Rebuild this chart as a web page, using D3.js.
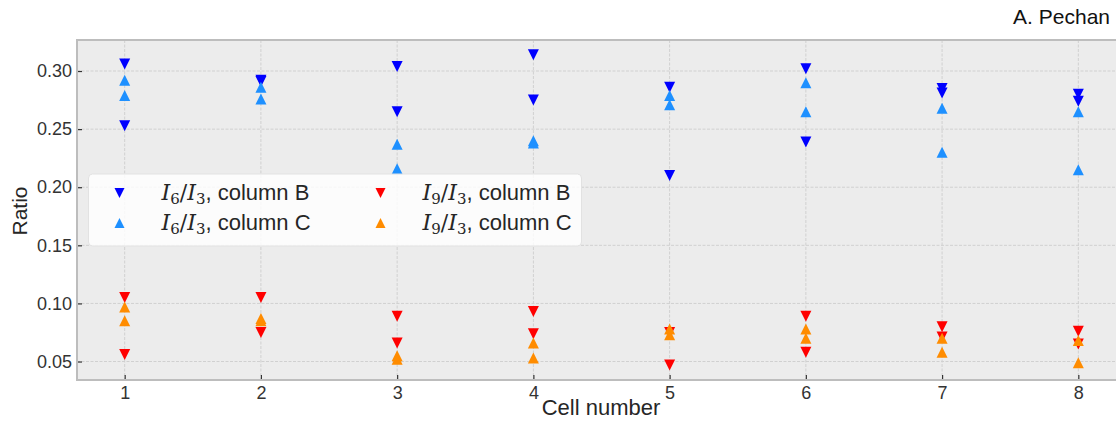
<!DOCTYPE html>
<html>
<head>
<meta charset="utf-8">
<script src="https://cdn.jsdelivr.net/npm/d3@7"></script>
<style>
  body { margin:0; background:#fff; }
  text { font-family:"Liberation Sans", Arial, sans-serif; }
</style>
</head>
<body>
<div id="chart"></div>
<script>
var w=1116, h=426;
var pad={top:40, bottom:46, left:77, right:-10};

// cell numbers and two measurements per cell for each series
var cells=[1,2,3,4,5,6,7,8];
var i6B=[[0.306,0.253],[0.292,0.291],[0.304,0.265],[0.314,0.275],[0.286,0.210],[0.302,0.239],[0.285,0.281],[0.280,0.274]];
var i6C=[[0.292,0.279],[0.286,0.276],[0.237,0.216],[0.240,0.238],[0.279,0.271],[0.290,0.265],[0.268,0.230],[0.265,0.215]];
var i9B=[[0.105,0.056],[0.105,0.075],[0.089,0.066],[0.093,0.074],[0.075,0.047],[0.089,0.058],[0.080,0.071],[0.076,0.065]];
var i9C=[[0.097,0.085],[0.087,0.085],[0.055,0.052],[0.066,0.053],[0.078,0.073],[0.078,0.070],[0.070,0.058],[0.068,0.049]];
var yTicks=[0.05,0.10,0.15,0.20,0.25,0.30];

var series=[
  {name:"6", col:"B", data:i6B, color:"#0000ff", down:true},
  {name:"6", col:"C", data:i6C, color:"#1e90ff", down:false},
  {name:"9", col:"B", data:i9B, color:"#ff0000", down:true},
  {name:"9", col:"C", data:i9C, color:"#ff8c00", down:false}
];

var svg=d3.select("#chart").append("svg")
          .attr("width",w)
          .attr("height",h);

var xScale=d3.scaleLinear()
             .domain([0.65,8.35])
             .range([pad.left,w-pad.right]);
var yScale=d3.scaleLinear()
             .domain([0.0341,0.3267])
             .range([h-pad.bottom,pad.top]);

//Plot background
svg.append("rect")
   .attr("x",pad.left)
   .attr("y",pad.top)
   .attr("width",w-pad.right-pad.left)
   .attr("height",h-pad.bottom-pad.top)
   .attr("fill","#ececec");

//Grid lines
svg.append("g").selectAll("line")
   .data(yTicks).enter().append("line")
   .attr("x1",pad.left).attr("x2",w-pad.right)
   .attr("y1",function(d){return yScale(d);})
   .attr("y2",function(d){return yScale(d);})
   .attr("stroke","#d0d0d0").attr("stroke-width",1)
   .attr("stroke-dasharray","3,1.5");
svg.append("g").selectAll("line")
   .data(cells).enter().append("line")
   .attr("x1",function(d){return xScale(d);})
   .attr("x2",function(d){return xScale(d);})
   .attr("y1",pad.top).attr("y2",h-pad.bottom)
   .attr("stroke","#d0d0d0").attr("stroke-width",1)
   .attr("stroke-dasharray","3,1.5");

//Axes with inward ticks
var xAxis=d3.axisBottom(xScale).tickValues(cells).tickSizeInner(-5).tickSizeOuter(0).tickPadding(6);
var yAxis=d3.axisLeft(yScale).tickValues(yTicks).tickFormat(d3.format(".2f")).tickSizeInner(-5).tickSizeOuter(0).tickPadding(5);
var gx=svg.append("g").attr("transform","translate(0,"+(h-pad.bottom)+")").call(xAxis);
var gy=svg.append("g").attr("transform","translate("+pad.left+",0)").call(yAxis);
[gx,gy].forEach(function(g){
  g.select(".domain").remove();
  g.selectAll(".tick line").attr("stroke","#333").attr("stroke-width",1.2);
  g.selectAll(".tick text").attr("fill","#333").style("font-size","18px")
   .style("font-family","'Liberation Sans', Arial, sans-serif");
});

//Plot frame
svg.append("rect")
   .attr("x",pad.left)
   .attr("y",pad.top)
   .attr("width",w-pad.right-pad.left)
   .attr("height",h-pad.bottom-pad.top)
   .attr("fill","none")
   .attr("stroke","#bdbdbd")
   .attr("stroke-width",2);

//Triangle marker path
function tri(down,s){
  var a=s/2;
  return down ? "M"+(-a)+","+(-a)+"L"+a+","+(-a)+"L0,"+a+"Z"
              : "M"+(-a)+","+a+"L"+a+","+a+"L0,"+(-a)+"Z";
}

//Points
series.forEach(function(s){
  var pts=[];
  s.data.forEach(function(pair,i){pair.forEach(function(v){pts.push({c:cells[i],v:v});});});
  svg.append("g").selectAll("path")
     .data(pts).enter().append("path")
     .attr("d",tri(s.down,11))
     .attr("transform",function(d){return "translate("+xScale(d.c)+","+yScale(d.v)+")";})
     .attr("fill",s.color);
});

//Legend
var lg=svg.append("g");
lg.append("rect")
  .attr("x",88.5).attr("y",174)
  .attr("width",493).attr("height",72)
  .attr("rx",4)
  .attr("fill","#ffffff").attr("fill-opacity",0.82)
  .attr("stroke","#e2e2e2");
series.forEach(function(s,i){
  var col=Math.floor(i/2), row=i%2;
  var mx=119.5+col*261, my=193+row*30;
  lg.append("path").attr("d",tri(s.down,10))
    .attr("transform","translate("+mx+","+my+")")
    .attr("fill",s.color);
  var t=lg.append("text").attr("x",mx+42).attr("y",my+7)
          .style("font-size","22px").attr("fill","#262626");
  t.append("tspan").text("I").style("font-family","'DejaVu Serif', serif").style("font-style","italic");
  t.append("tspan").text(s.name).style("font-family","'DejaVu Serif', serif").style("font-size","15px").attr("dy",4);
  t.append("tspan").text("/").style("font-family","'DejaVu Serif', serif").attr("dy",-4);
  t.append("tspan").text("I").style("font-family","'DejaVu Serif', serif").style("font-style","italic");
  t.append("tspan").text("3").style("font-family","'DejaVu Serif', serif").style("font-size","15px").attr("dy",4);
  t.append("tspan").text(", column "+s.col).attr("dy",-4);
});

//Axis labels
svg.append("text")
   .attr("x",601)
   .attr("y",415)
   .attr("text-anchor","middle")
   .style("font-size","22px").attr("fill","#262626")
   .text("Cell number");
svg.append("text")
   .attr("transform","translate(27,211)rotate(-90)")
   .attr("text-anchor","middle")
   .style("font-size","21px").attr("fill","#262626")
   .text("Ratio");

//Author label
svg.append("text")
   .attr("x",1110).attr("y",24)
   .attr("text-anchor","end")
   .style("font-size","21px").attr("fill","#111")
   .text("A. Pechan");
</script>
</body>
</html>
